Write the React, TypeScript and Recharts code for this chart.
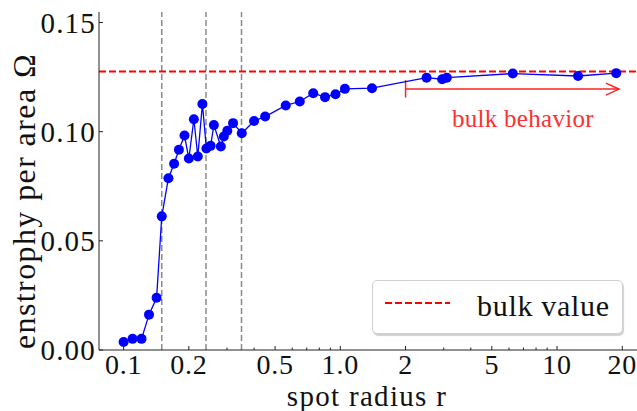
import React from 'react';
import { ComposedChart, Line, XAxis, YAxis, ReferenceLine, Legend } from 'recharts';

// spot radius r
const radius = [0.1, 0.11, 0.121, 0.131, 0.142, 0.15, 0.161, 0.171, 0.18, 0.191, 0.2, 0.211, 0.22, 0.231, 0.241, 0.252, 0.261, 0.281, 0.29, 0.301, 0.32, 0.351, 0.4, 0.45, 0.56, 0.65, 0.75, 0.85, 0.95, 1.05, 1.4, 2.5, 2.95, 3.1, 6.25, 12.5, 18.75];
// enstrophy per area
const enstrophy = [0.0037, 0.0051, 0.0051, 0.0162, 0.0239, 0.0612, 0.0787, 0.0853, 0.0917, 0.0982, 0.0877, 0.1057, 0.0886, 0.1127, 0.0923, 0.0935, 0.103, 0.0932, 0.0978, 0.1004, 0.1039, 0.0993, 0.1049, 0.1069, 0.112, 0.1138, 0.1176, 0.1158, 0.1171, 0.1196, 0.1199, 0.1247, 0.124, 0.1247, 0.1266, 0.1255, 0.1268];

const bulkValue = 0.1275;
const markerRadii = [0.15, 0.24, 0.35];
const bulkStart = 2;
const bulkEnd = 19.3;
const bulkArrowY = 0.1195;

const xMajorTicks = [0.1, 0.2, 0.5, 1, 2, 5, 10, 20];
const xMinorTicks = [0.3, 0.4, 0.6, 0.7, 0.8, 0.9, 3, 4, 6, 7, 8, 9];
const yTicks = [0, 0.05, 0.1, 0.15];
const xDomain = [0.077, 24.4];
const yDomain = [0, 0.1548];

const data = radius.map((r, i) => ({ r, omega: enstrophy[i] }));

const FONT = "'Liberation Serif', 'Times New Roman', serif";
const AXIS = '#222';

const fmtX = (v: number) => (v === 1 ? '1.0' : String(v));

const XTick = (props: any) => {
  const { x, y, payload } = props;
  const v = payload.value;
  const major = xMajorTicks.includes(v);
  return (
    <g>
      <line x1={x} x2={x} y1={y} y2={y - (major ? 4 : 2.5)} stroke={AXIS} strokeWidth={1} />
      {major && (
        <text x={x} y={y + 24} textAnchor="middle" style={{ fontFamily: FONT }} fontSize={28} fill="#111" letterSpacing={0.8}>
          {fmtX(v)}
        </text>
      )}
    </g>
  );
};

const YTick = (props: any) => {
  const { x, y, payload } = props;
  return (
    <g>
      <line x1={x} x2={x + 4} y1={y} y2={y} stroke={AXIS} strokeWidth={1} />
      <text x={x - 3} y={y} dy="0.35em" textAnchor="end" style={{ fontFamily: FONT }} fontSize={29} fill="#111" letterSpacing={1.2}>
        {payload.value.toFixed(2)}
      </text>
    </g>
  );
};

const XLabel = () => (
  <text x={367} y={406} textAnchor="middle" style={{ fontFamily: FONT }} fontSize={29} fill="#111" letterSpacing={1.3}>
    spot radius r
  </text>
);

const YLabel = () => (
  <text x={0} y={0} transform="translate(35,201) rotate(-90)" textAnchor="middle" style={{ fontFamily: FONT }} fontSize={32} fill="#111" letterSpacing={1.4}>
    enstrophy per area Ω
  </text>
);

const BulkArrow = (props: any) => {
  const { x1, y1, x2 } = props;
  return (
    <g>
      <line x1={x1} x2={x2} y1={y1} y2={y1} stroke="#ff2020" strokeWidth={1.5} />
      <line x1={x1} x2={x1} y1={y1 - 9} y2={y1 + 8.5} stroke="#ff2020" strokeWidth={1.5} />
      <polyline points={`${x2 - 13},${y1 - 6} ${x2},${y1} ${x2 - 13},${y1 + 6}`} fill="none" stroke="#ff2020" strokeWidth={1.5} />
      <text x={x1 + (x2 - x1) * 0.55} y={y1 + 38} textAnchor="middle" style={{ fontFamily: FONT }} fontSize={25} fill="#ff3030" letterSpacing={0.3}>
        bulk behavior
      </text>
    </g>
  );
};

const LegendBox = () => (
  <div
    style={{
      width: 251,
      height: 54,
      boxSizing: 'border-box',
      border: '1px solid #d0d0d0',
      borderRadius: 5,
      background: '#fff',
      boxShadow: '1px 2px 1px rgba(0,0,0,0.18)',
    }}
  >
    <svg width={249} height={52} style={{ display: 'block' }}>
      <line x1={12} x2={77} y1={22} y2={22} stroke="#ff0000" strokeWidth={2} strokeDasharray="7 3" />
      <text x={104} y={35} style={{ fontFamily: FONT }} fontSize={30} fill="#111" letterSpacing={0.7}>
        bulk value
      </text>
    </svg>
  </div>
);

export default function App() {
  return (
    <div style={{ position: 'absolute', left: 0, top: 0, width: 637, height: 411, overflow: 'hidden', background: '#fff' }}>
      <ComposedChart width={641} height={411} data={data} margin={{ top: 12, right: 0, bottom: 0, left: 0 }}>
        <XAxis
          dataKey="r"
          type="number"
          scale="log"
          domain={xDomain}
          allowDataOverflow
          ticks={[...xMajorTicks, ...xMinorTicks]}
          interval={0}
          tick={<XTick />}
          tickLine={false}
          tickSize={0}
          tickMargin={0}
          height={61}
          axisLine={{ stroke: AXIS, strokeWidth: 1 }}
          label={<XLabel />}
        />
        <XAxis
          xAxisId="top"
          orientation="top"
          dataKey="r"
          type="number"
          scale="log"
          domain={xDomain}
          allowDataOverflow
          height={0}
          tick={false}
          tickLine={false}
          axisLine={{ stroke: AXIS, strokeWidth: 1 }}
        />
        <YAxis
          type="number"
          domain={yDomain}
          allowDataOverflow
          ticks={yTicks}
          interval={0}
          width={99}
          tick={<YTick />}
          tickLine={false}
          tickSize={0}
          tickMargin={0}
          axisLine={{ stroke: AXIS, strokeWidth: 1 }}
          label={<YLabel />}
        />
        {markerRadii.map((m) => (
          <ReferenceLine key={m} x={m} stroke="#8a8a8a" strokeWidth={1.5} strokeDasharray="6 3" />
        ))}
        <ReferenceLine y={bulkValue} stroke="#ff0000" strokeWidth={2} strokeDasharray="7 3" />
        <ReferenceLine
          segment={[{ x: bulkStart, y: bulkArrowY }, { x: bulkEnd, y: bulkArrowY }]}
          shape={<BulkArrow />}
        />
        <Line
          dataKey="omega"
          type="linear"
          stroke="#0000ff"
          strokeWidth={1.3}
          dot={{ r: 5, fill: '#0000ff', stroke: 'none' }}
          activeDot={false}
          isAnimationActive={false}
        />
        <Legend
          layout="horizontal"
          align="center"
          verticalAlign="middle"
          content={<LegendBox />}
          wrapperStyle={{ left: 372, top: 280, width: 251, height: 54 }}
        />
      </ComposedChart>
    </div>
  );
}
